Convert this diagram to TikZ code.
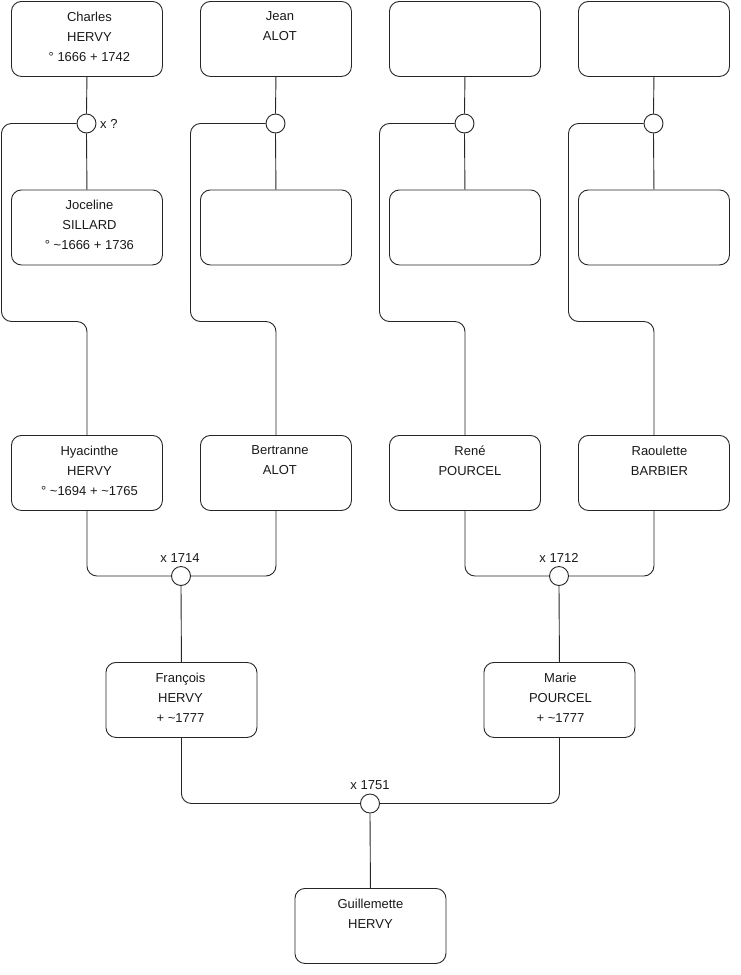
\documentclass[tikz,border=0pt]{standalone}
\usepackage{fontspec}
\setmainfont{Liberation Sans}
\begin{document}
\begin{tikzpicture}[x=1pt,y=-1pt,
  box/.style={draw=black!85, line width=0.9pt, rounded corners=10pt, minimum width=151pt, minimum height=75pt, inner sep=0pt, anchor=north west},
  txt/.style={anchor=north, align=center, font=\fontsize{13}{20}\selectfont, yshift=-7.5pt, inner sep=3pt, text=black!90},
  circ/.style={circle, draw=black!85, line width=0.9pt, fill=white, minimum size=19pt, inner sep=0pt},
  conn/.style={draw=black!85, line width=0.9pt, rounded corners=10pt},
  lab/.style={font=\fontsize{13}{15}\selectfont, inner sep=0pt, text=black!90}]
\useasboundingbox (0,0) rectangle (740,975);
% row 1
\node[box, label={[txt, xshift=2.5pt]north:{Charles\\HERVY\\° 1666 + 1742}}] (ch) at (11,1) {};
\node[box, label={[txt, xshift=4pt]north:{Jean\\ALOT}}] (je) at (200,1) {};
\node[box] (u3) at (389,1) {};
\node[box] (u4) at (578,1) {};
% row 2
\node[box, label={[txt, xshift=2.5pt]north:{Joceline\\SILLARD\\° \textasciitilde 1666 + 1736}}] (jo) at (11,189.5) {};
\node[box] (w2) at (200,189.5) {};
\node[box] (w3) at (389,189.5) {};
\node[box] (w4) at (578,189.5) {};
% row 3
\node[box, label={[txt, xshift=2.5pt]north:{Hyacinthe\\HERVY\\° \textasciitilde 1694 + \textasciitilde 1765}}] (hy) at (11,435) {};
\node[box, label={[txt, xshift=4pt]north:{Bertranne\\ALOT}}] (be) at (200,435) {};
\node[box, label={[txt, xshift=5pt]north:{René\\POURCEL}}] (re) at (389,435) {};
\node[box, label={[txt, xshift=5.5pt]north:{Raoulette\\BARBIER}}] (ra) at (578,435) {};
% row 4
\node[box, label={[txt, xshift=-1pt]north:{François\\HERVY\\+ \textasciitilde 1777}}] (fr) at (105.5,662) {};
\node[box, label={[txt, xshift=1pt]north:{Marie\\POURCEL\\+ \textasciitilde 1777}}] (ma) at (483.5,662) {};
% row 5
\node[box, label={[txt]north:{Guillemette\\HERVY}}] (gu) at (294.5,888) {};
% unions
\node[circ] (c1) at (86.5,123.5) {};
\node[circ] (c2) at (275.5,123.5) {};
\node[circ] (c3) at (464.5,123.5) {};
\node[circ] (c4) at (653.5,123.5) {};
\node[circ] (m1) at (181,576) {};
\node[circ] (m2) at (559,576) {};
\node[circ] (m3) at (370,803.5) {};
% labels
\node[lab, anchor=west] (l1) at (100,124) {x ?};
\node[lab] (l2) at (180,558) {x 1714};
\node[lab] (l3) at (559,558) {x 1712};
\node[lab] (l4) at (370,785) {x 1751};
% connectors
\draw[conn] (ch.south) -- (c1.north);
\draw[conn] (c1.south) -- (jo.north);
\draw[conn] (c1.west) -| (1.5,321.5) -| (hy.north);
\draw[conn] (je.south) -- (c2.north);
\draw[conn] (c2.south) -- (w2.north);
\draw[conn] (c2.west) -| (190.5,321.5) -| (be.north);
\draw[conn] (u3.south) -- (c3.north);
\draw[conn] (c3.south) -- (w3.north);
\draw[conn] (c3.west) -| (379.5,321.5) -| (re.north);
\draw[conn] (u4.south) -- (c4.north);
\draw[conn] (c4.south) -- (w4.north);
\draw[conn] (c4.west) -| (568.5,321.5) -| (ra.north);
\draw[conn] (hy.south) |- (m1.west);
\draw[conn] (be.south) |- (m1.east);
\draw[conn] (m1.south) -- (fr.north);
\draw[conn] (re.south) |- (m2.west);
\draw[conn] (ra.south) |- (m2.east);
\draw[conn] (m2.south) -- (ma.north);
\draw[conn] (fr.south) |- (m3.west);
\draw[conn] (ma.south) |- (m3.east);
\draw[conn] (m3.south) -- (gu.north);
\end{tikzpicture}
\end{document}
